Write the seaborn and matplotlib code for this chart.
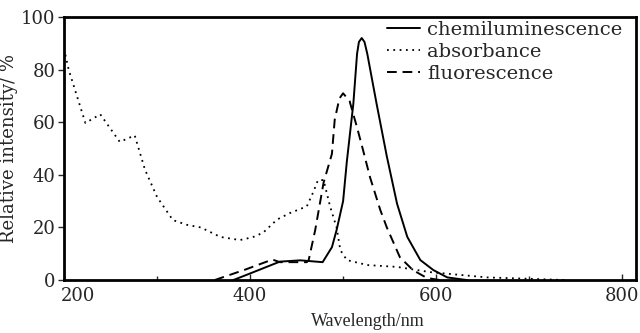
import matplotlib
matplotlib.use('Agg')
import matplotlib.pyplot as plt
import matplotlib.transforms as mtrans
import numpy as np
import pandas as pd
import seaborn as sns

# chemiluminescence (solid)
chemi_wl = [382, 400, 432, 454, 478, 488, 493, 500, 504, 511, 515, 517, 520, 523, 526, 536, 547, 558, 569, 583, 597, 612, 633]
chemi_y = [0, 2.5, 7, 7.5, 6.8, 12.5, 19, 30, 45, 67, 86, 90.5, 92, 90.5, 86, 67, 47, 29, 16.4, 7.6, 3.8, 1, 0]

# absorbance (dotted)
abs_wl = [200, 205, 223, 239, 260, 276, 287, 300, 317, 332, 347, 368, 389, 403, 414, 429, 443,
          461, 468, 473, 479, 486, 493, 497, 504, 526, 558, 594, 655, 698, 740]
abs_y = [88, 80, 59.7, 63, 52.5, 55, 42, 31.6, 22.8, 21, 20, 16.4, 15.2, 16.3, 18, 23, 25.5,
         28, 33.5, 38, 38, 28, 20, 11.4, 7.6, 5.7, 5, 3, 1, 0.5, 0]

# fluorescence (dashed)
fluo_wl = [362, 395, 424, 432, 461, 463, 470, 479, 488, 491, 496, 500, 507, 515, 521, 529, 540, 547, 561, 575, 590, 604]
fluo_y = [0, 4, 7.8, 6.8, 6.8, 7.6, 19, 37, 48, 61, 69, 71, 68, 58, 50, 39, 26.6, 20, 8.7, 3.8, 0.8, 0]

sns.set_style('ticks')
plt.rcParams['font.family'] = ['DejaVu Serif']

fig = plt.figure(figsize=(6.4, 3.33), dpi=100)
ax = fig.add_axes([0.1, 0.159, 0.894, 0.79])

sns.lineplot(x=chemi_wl, y=chemi_y, ax=ax, color='black', linewidth=1.4,
             linestyle='-', label='chemiluminescence')
sns.lineplot(x=abs_wl, y=abs_y, ax=ax, color='black', linewidth=1.3,
             linestyle=(0, (1, 2.5)), label='absorbance')
sns.lineplot(x=fluo_wl, y=fluo_y, ax=ax, color='black', linewidth=1.4,
             linestyle=(0, (5, 3)), label='fluorescence')

ax.set_xlim(200, 815)
ax.set_ylim(0, 100)
ax.set_xticks([200, 400, 600, 800])
ax.set_xticks([300, 500, 700], minor=True)
ax.set_yticks([0, 20, 40, 60, 80, 100])
ax.tick_params(axis='x', direction='in', length=4, width=1, labelsize=13, pad=5)
ax.tick_params(axis='x', which='minor', direction='in', length=3, width=1)
ax.tick_params(axis='y', direction='out', length=4, width=1, labelsize=13, pad=2)
for s in ax.spines.values():
    s.set_linewidth(2)
    s.set_color('black')

# the "200" label sits a little right of its tick, clear of the "0"
first = ax.get_xticklabels()[0]
first.set_transform(first.get_transform() + mtrans.ScaledTranslation(10 / 72, 0, fig.dpi_scale_trans))

ax.set_xlabel('Wavelength/nm', fontsize=13, family='Liberation Serif')
ax.xaxis.set_label_coords(0.531, -0.125)
ax.set_ylabel('Relative intensity/ %', fontsize=13, labelpad=2)

leg = ax.legend(loc='upper left', bbox_to_anchor=(0.565, 0.985), frameon=False, fontsize=14,
                handlelength=1.7, handletextpad=0.35, labelspacing=0.2, borderpad=0,
                borderaxespad=0)

fig.savefig('out.png', dpi=100)
